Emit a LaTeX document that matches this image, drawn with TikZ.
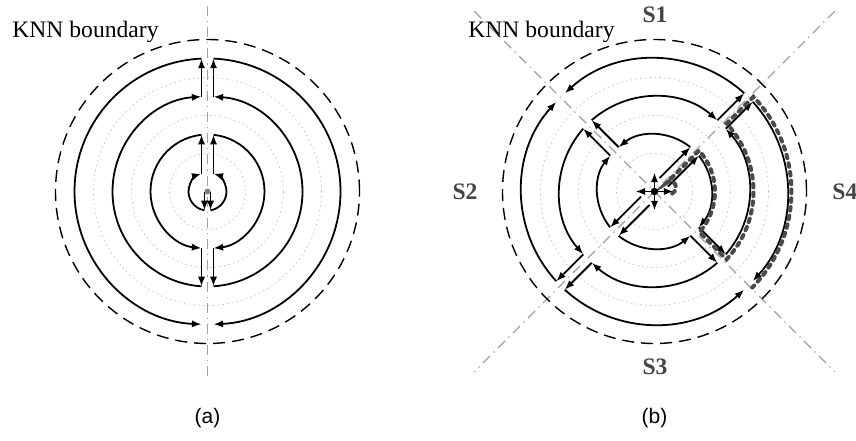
\documentclass[tikz,border=0pt]{standalone}
\usepackage{fontspec}
\setmainfont{Liberation Serif}
\setsansfont{Liberation Sans}
\usepackage{tikz}
\usepackage{xcolor}
\usetikzlibrary{arrows.meta,calc}
\definecolor{GuideGray}{HTML}{C8C8C8}
\definecolor{AxisGray}{HTML}{A0A0A0}
\definecolor{RouteGray}{HTML}{4A4A4A}
\definecolor{SectorGray}{HTML}{454545}
\tikzset{
  knnflow/.style={-{Latex[length=4.8pt,width=3.6pt]}, line width=0.9pt, draw=black},
  knnring/.style={draw=black, line width=0.7pt, dash pattern=on 6pt off 3.5pt},
  knnguide/.style={draw=GuideGray, line width=0.4pt, dash pattern=on 0.8pt off 1.6pt},
  knnaxis/.style={draw=AxisGray, line width=0.6pt, dash pattern=on 5pt off 2.5pt on 0.6pt off 2.5pt},
  knnroute/.style={draw=RouteGray, line width=2pt, line cap=round, dash pattern=on 1.8pt off 2.6pt},
  knnlabel/.style={inner sep=0pt, font=\fontsize{11.8}{14}\selectfont},
  sectorlabel/.style={inner sep=0pt, text=SectorGray, font=\bfseries\fontsize{11.8}{14}\selectfont},
  caplabel/.style={inner sep=0pt, font=\sffamily\fontsize{10.5}{12}\selectfont}
}

\begin{document}
\begin{tikzpicture}[x=0.5pt,y=0.5pt]
  \useasboundingbox (0,0) rectangle (856,440);
  \coordinate (A) at (207.5,248.5);
  \coordinate (B) at (654.5,248.5);

  \foreach \c in {A,B} {
    \foreach \r in {38,76,114}
      \draw[knnguide] (\c) circle[radius=\r];
  }
  \draw[knnaxis] (207.5,434) -- (207.5,60);
  \draw[knnaxis] ($(B)+(135:255)$) -- ($(B)+(315:255)$);
  \draw[knnaxis] ($(B)+(45:255)$) -- ($(B)+(225:255)$);

  % (a): two half planes
  \foreach \s in {1,-1} {
    \begin{scope}[shift={(A)}, xscale=\s]
      \draw[knnflow] (3,0) -- (3,-18.8);
      \draw[knnflow] (3,-18.8) arc[start angle=-80.9, end angle=71.6, radius=19];
      \draw[knnflow] (6,18) -- (6,56.7);
      \draw[knnflow] (6,56.7) arc[start angle=83.96, end angle=-83.96, radius=57];
      \draw[knnflow] (6,-56.7) -- (6,-94.8);
      \draw[knnflow] (6,-94.8) arc[start angle=-86.38, end angle=86.38, radius=95];
      \draw[knnflow] (6,94.8) -- (6,132.9);
      \draw[knnflow] (6,132.9) arc[start angle=87.41, end angle=-87.41, radius=133];
    \end{scope}
  }
  \draw[knnring] (A) circle[radius=152];
  \node[circle, fill=gray, inner sep=0pt, minimum size=3pt] (qa) at (A) {};

  % (b): four sectors
  \foreach \ang in {0,90,180,270}
    \draw[knnflow] (B) -- ++(\ang:19);
  \foreach \al/\sg in {45/1, 45/-1, 225/1, 225/-1} {
    \begin{scope}[shift={(B)}, rotate=\al, yscale=\sg]
      \draw[knnflow] (13,6) -- (56.7,6);
      \draw[knnflow] (56.7,6) arc[start angle=6.04, end angle=83.96, radius=57];
      \draw[knnflow] (6,56.7) -- (6,94.8);
      \draw[knnflow] (6,94.8) arc[start angle=86.38, end angle=3.62, radius=95];
      \draw[knnflow] (94.8,6) -- (132.9,6);
      \draw[knnflow] (132.9,6) arc[start angle=2.59, end angle=87.41, radius=133];
    \end{scope}
  }
  \begin{scope}[shift={(B)}, rotate=45, yscale=-1]
    \draw[knnroute] (11,14) .. controls (21,16) and (23,2.5) .. (15,2.5) -- (60.4,2.5)
      arc[start angle=2.37, end angle=87.2, radius=60.5] -- (3,98.9)
      arc[start angle=88.3, end angle=1.7, radius=99] -- (136.9,3)
      arc[start angle=1.25, end angle=89.5, radius=137];
  \end{scope}
  \draw[knnring] (B) circle[radius=152];
  \node[circle, fill=black, inner sep=0pt, minimum size=3.8pt] (qb) at (B) {};

  \node[knnlabel, anchor=base west] (knna) at (12,402) {KNN boundary};
  \node[knnlabel, anchor=base west] (knnb) at (468,402) {KNN boundary};
  \node[sectorlabel] (s1) at (655,425) {S1};
  \node[sectorlabel] (s2) at (465,248) {S2};
  \node[sectorlabel] (s3) at (655,73) {S3};
  \node[sectorlabel, anchor=west] (s4) at (832,248) {S4};
  \node[caplabel] (capa) at (207.5,22) {(a)};
  \node[caplabel] (capb) at (654.5,22) {(b)};
\end{tikzpicture}
\end{document}
